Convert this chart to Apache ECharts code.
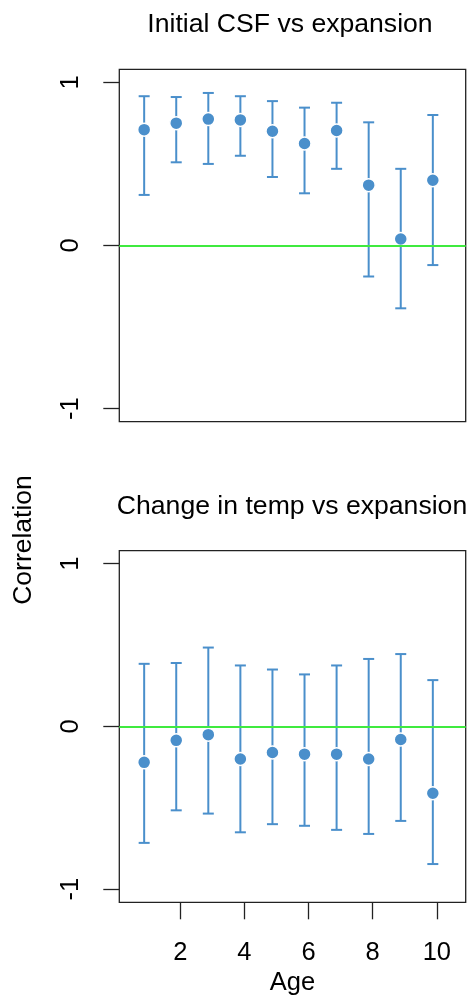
<!DOCTYPE html>
<html>
<head>
<meta charset="utf-8">
<script src="https://cdn.jsdelivr.net/npm/echarts@6/dist/echarts.min.js"></script>
<style>
  html, body { margin: 0; padding: 0; background: #fff; }
  #main { width: 472px; height: 999px; }
</style>
</head>
<body>
<div id="main"></div>
<script>
// data
var ages = [1, 2, 3, 4, 5, 6, 7, 8, 9, 10];
var dodge = -0.125; // points sit slightly left of the age ticks

var csfR  = [0.71, 0.75, 0.775, 0.77, 0.70, 0.625, 0.705, 0.37, 0.04, 0.40];
var csfLo = [0.31, 0.51, 0.50, 0.55, 0.42, 0.32, 0.47, -0.19, -0.385, -0.12];
var csfHi = [0.915, 0.91, 0.935, 0.915, 0.885, 0.845, 0.875, 0.755, 0.47, 0.80];

var tempR  = [-0.22, -0.085, -0.05, -0.20, -0.16, -0.17, -0.17, -0.20, -0.08, -0.41];
var tempLo = [-0.715, -0.515, -0.535, -0.65, -0.60, -0.61, -0.635, -0.66, -0.58, -0.845];
var tempHi = [0.385, 0.39, 0.485, 0.375, 0.35, 0.32, 0.375, 0.415, 0.445, 0.285];

var xTicks = [2, 4, 6, 8, 10];
var yTicks = [-1, 0, 1];

var BLUE = '#4A8FCB';
var GREEN = '#3FEA3F';
var INK = '#222';
var FONT = 'Liberation Sans, Arial, Helvetica, sans-serif';

function pts(r) {
  return ages.map(function (a, i) { return [a + dodge, r[i]]; });
}
function bars(lo, hi) {
  return ages.map(function (a, i) { return [a + dodge, lo[i], hi[i]]; });
}

function errRender(params, api) {
  var x = api.value(0);
  var pLo = api.coord([x, api.value(1)]);
  var pHi = api.coord([x, api.value(2)]);
  var w = 5.5;
  var st = { stroke: BLUE, lineWidth: 2 };
  return {
    type: 'group',
    children: [
      { type: 'line', shape: { x1: pLo[0], y1: pLo[1], x2: pHi[0], y2: pHi[1] }, style: st },
      { type: 'line', shape: { x1: pLo[0] - w, y1: pLo[1], x2: pLo[0] + w, y2: pLo[1] }, style: st },
      { type: 'line', shape: { x1: pHi[0] - w, y1: pHi[1], x2: pHi[0] + w, y2: pHi[1] }, style: st }
    ]
  };
}

function xAx(idx, showLabels) {
  return {
    type: 'value', gridIndex: idx, min: 0.1, max: 10.9, position: 'bottom',
    splitLine: { show: false },
    axisLine: { show: false, onZero: false },
    axisTick: { show: showLabels, customValues: xTicks, length: 17, lineStyle: { color: INK, width: 1.3 } },
    axisLabel: { show: showLabels, customValues: xTicks, margin: 38, color: '#000', fontSize: 25.5, fontFamily: FONT },
    name: showLabels ? 'Age' : '',
    nameLocation: 'middle', nameGap: 68,
    nameTextStyle: { color: '#000', fontSize: 25.5, fontFamily: FONT }
  };
}
function yAx(idx) {
  return {
    type: 'value', gridIndex: idx, min: -1.08, max: 1.08, position: 'left',
    splitLine: { show: false },
    axisLine: { show: false, onZero: false },
    axisTick: { customValues: yTicks, length: 16, lineStyle: { color: INK, width: 1.3 } },
    axisLabel: { customValues: yTicks, rotate: 90, margin: 35, color: '#000', fontSize: 25.5, fontFamily: FONT }
  };
}

function zeroLine() {
  return {
    silent: true, symbol: 'none', label: { show: false },
    lineStyle: { color: GREEN, width: 2, type: 'solid' },
    data: [{ yAxis: 0 }]
  };
}

var chart = echarts.init(document.getElementById('main'), null, { renderer: 'canvas' });
chart.setOption({
  animation: false,
  backgroundColor: '#fff',
  title: [
    { text: 'Initial CSF vs expansion', left: 285, top: 6, textAlign: 'center',
      textStyle: { fontSize: 26.6, fontWeight: 'normal', color: '#000', fontFamily: FONT } },
    { text: 'Change in temp vs expansion', left: 287, top: 488, textAlign: 'center',
      textStyle: { fontSize: 26.6, fontWeight: 'normal', color: '#000', fontFamily: FONT } }
  ],
  graphic: [
    { type: 'text', x: 24, y: 540, rotation: Math.PI / 2,
      style: { text: 'Correlation', fill: '#000', font: '26.5px ' + FONT, align: 'center', verticalAlign: 'middle' } }
  ],
  grid: [
    { left: 119.3, top: 69.3, width: 346.4, height: 352.4, show: true, borderColor: INK, borderWidth: 1.3, backgroundColor: 'transparent' },
    { left: 119.3, top: 550.7, width: 346.4, height: 351.6, show: true, borderColor: INK, borderWidth: 1.3, backgroundColor: 'transparent' }
  ],
  xAxis: [xAx(0, false), xAx(1, true)],
  yAxis: [yAx(0), yAx(1)],
  series: [
    { type: 'custom', xAxisIndex: 0, yAxisIndex: 0, renderItem: errRender, data: bars(csfLo, csfHi), z: 2 },
    { type: 'scatter', xAxisIndex: 0, yAxisIndex: 0, data: pts(csfR), symbolSize: 13,
      itemStyle: { color: BLUE, borderColor: '#fff', borderWidth: 1.5, opacity: 1 }, z: 3 },
    { type: 'line', xAxisIndex: 0, yAxisIndex: 0, data: [], markLine: zeroLine(), z: 4 },
    { type: 'custom', xAxisIndex: 1, yAxisIndex: 1, renderItem: errRender, data: bars(tempLo, tempHi), z: 2 },
    { type: 'scatter', xAxisIndex: 1, yAxisIndex: 1, data: pts(tempR), symbolSize: 13,
      itemStyle: { color: BLUE, borderColor: '#fff', borderWidth: 1.5, opacity: 1 }, z: 3 },
    { type: 'line', xAxisIndex: 1, yAxisIndex: 1, data: [], markLine: zeroLine(), z: 4 }
  ]
});
</script>
</body>
</html>
